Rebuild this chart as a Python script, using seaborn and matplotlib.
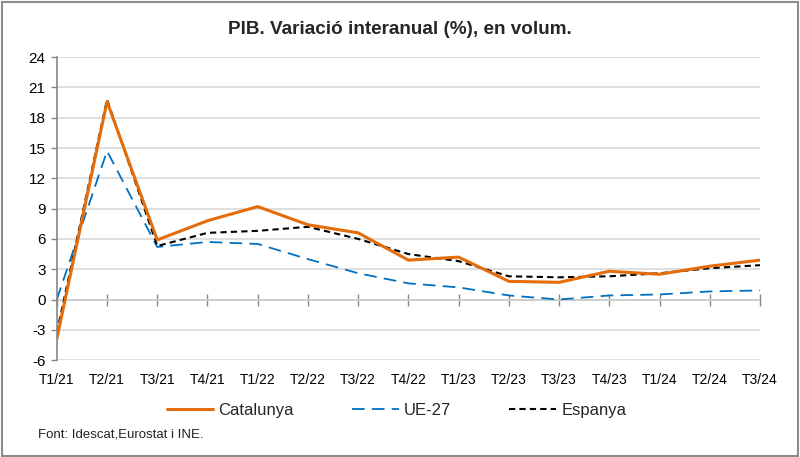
import pandas as pd
import numpy as np
import seaborn as sns
import matplotlib.pyplot as plt
from matplotlib.patches import Rectangle

# dades
trimestres = ["T1/21", "T2/21", "T3/21", "T4/21", "T1/22", "T2/22", "T3/22", "T4/22",
              "T1/23", "T2/23", "T3/23", "T4/23", "T1/24", "T2/24", "T3/24"]
catalunya = [-3.9, 19.6, 5.9, 7.8, 9.2, 7.4, 6.6, 3.9, 4.2, 1.8, 1.7, 2.8, 2.5, 3.3, 3.9]
ue27 = [0.0, 14.7, 5.2, 5.7, 5.5, 4.0, 2.6, 1.6, 1.2, 0.4, 0.0, 0.4, 0.5, 0.8, 0.9]
espanya = [-3.3, 19.8, 5.3, 6.6, 6.8, 7.2, 6.0, 4.5, 3.8, 2.3, 2.2, 2.3, 2.6, 3.1, 3.4]

sns.set_theme(style="white")
plt.rcParams['font.family'] = ['Liberation Sans', 'DejaVu Sans']
plt.rcParams['axes.unicode_minus'] = False

df = pd.DataFrame({"pos": np.arange(len(trimestres)), "Catalunya": catalunya,
                   "UE-27": ue27, "Espanya": espanya})

fig = plt.figure(figsize=(8, 4.57), dpi=100)
ax = fig.add_axes([0.071, 0.212, 0.879, 0.663])

sns.lineplot(x="pos", y="Catalunya", data=df, ax=ax, color="#E46C0A", lw=2.2, label="Catalunya", zorder=3)
sns.lineplot(x="pos", y="UE-27", data=df, ax=ax, color="#0070C0", lw=1.3, label="UE-27", zorder=2)
sns.lineplot(x="pos", y="Espanya", data=df, ax=ax, color="black", lw=1.5, label="Espanya", zorder=2.5)
ax.lines[1].set_dashes((7, 4))
ax.lines[2].set_dashes((3, 2))

ymin, ymax = -6, 24
ax.set_ylim(ymin, ymax)
ax.set_xlim(0, len(trimestres) - 1)
ax.set_yticks(range(-6, 25, 3))
ax.yaxis.grid(True, color="#D9D9D9", lw=1.2)
ax.set_xticks(df["pos"])
ax.set_xticklabels(trimestres)
ax.tick_params(axis="x", length=0, pad=9, labelsize=10, colors="black")
ax.tick_params(axis="y", left=True, length=4, width=1, color="#868686", labelsize=11, pad=4, labelcolor="black")
ax.set_xlabel("")
ax.set_ylabel("")
for s in ["top", "right", "bottom"]:
    ax.spines[s].set_visible(False)
ax.spines["left"].set_color("#868686")
ax.spines["left"].set_linewidth(1.2)

# eix a zero amb marques
zero = (0 - ymin) / (ymax - ymin)
sec = ax.secondary_xaxis(zero)
sec.set_xticks(df["pos"])
sec.set_xticklabels([])
sec.tick_params(direction="inout", length=8, width=1, color="#868686")
sec.spines["bottom"].set_color("#868686")
sec.spines["bottom"].set_linewidth(1.2)

fig.suptitle("PIB. Variació interanual (%), en volum.", fontsize=13.6, fontweight="bold",
             x=0.5, y=0.935, va="center")

ax.legend(loc="center", bbox_to_anchor=(0.483, -0.165), ncol=3, frameon=False,
          fontsize=12, handlelength=2.8, columnspacing=3.5, handletextpad=0.3)

fig.text(0.047, 0.043, "Font: Idescat,Eurostat i INE.", fontsize=9.5, color="#222222")
fig.patches.append(Rectangle((0.002, 0.003), 0.995, 0.993, transform=fig.transFigure,
                             fill=False, edgecolor="#8C8C8C", lw=1.5))

plt.savefig("out.png", dpi=100)
